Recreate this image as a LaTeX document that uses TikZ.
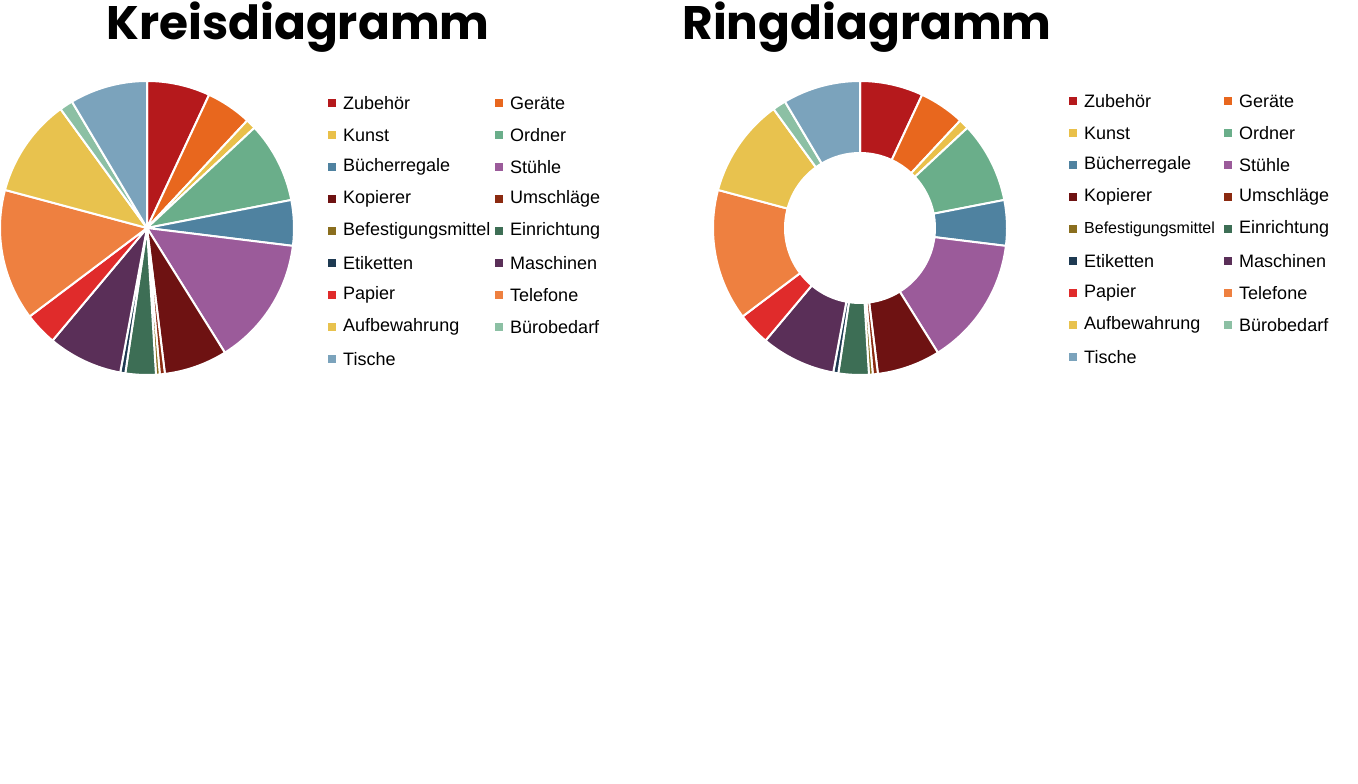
\documentclass[tikz,border=0pt]{standalone}
\usepackage{fontspec}
\setmainfont{Liberation Sans}
\newfontfamily\titlefont{Poppins}
\definecolor{cA}{HTML}{B5191C}\definecolor{cB}{HTML}{E8671E}\definecolor{cC}{HTML}{E9C04A}
\definecolor{cD}{HTML}{6AAE8A}\definecolor{cE}{HTML}{4F82A0}\definecolor{cF}{HTML}{9B5B9A}
\definecolor{cG}{HTML}{6E1212}\definecolor{cH}{HTML}{8B2A10}\definecolor{cI}{HTML}{8A6E1E}
\definecolor{cJ}{HTML}{3D6E55}\definecolor{cK}{HTML}{1E3A52}\definecolor{cL}{HTML}{5A2F58}
\definecolor{cM}{HTML}{E02B2B}\definecolor{cN}{HTML}{EE8040}\definecolor{cO}{HTML}{E8C24E}
\definecolor{cP}{HTML}{8CC0A4}\definecolor{cQ}{HTML}{7BA3BC}
\tikzset{slice/.style={fill=#1,draw=white,line width=2pt,line join=round},
 leg/.style={anchor=west,font=\fontsize{18}{20}\selectfont,inner sep=0pt},
 legsq/.style={fill=#1,minimum size=8pt,inner sep=0pt},
 ttl/.style={font=\titlefont\bfseries\fontsize{47}{50}\selectfont,inner sep=0pt}}
\begin{document}
\begin{tikzpicture}[x=1pt,y=1pt]
\useasboundingbox (0,0) rectangle (1358,784);
\def\slices{90/65/cA,65/47/cB,47/43/cC,43/11/cD,11/-7/cE,-7/-58/cF,-58/-83/cG,-83/-85/cH,-85/-86.5/cI,-86.5/-98.5/cJ,-98.5/-100.5/cK,-100.5/-130/cL,-130/-143/cM,-143/-195/cN,-195/-234/cO,-234/-239.3/cP,-239.3/-270/cQ}
\node[ttl] (t1) at (298,757) {Kreisdiagramm};
\node[ttl] (t2) at (867,757) {Ringdiagramm};
\begin{scope}[shift={(147,556)}]
\foreach \a/\b/\c in \slices {\draw[slice=\c] (0,0) -- (\a:147) arc (\a:\b:147) -- cycle;}
\end{scope}
\begin{scope}[shift={(860,556)}]
\foreach \a/\b/\c in \slices {\draw[slice=\c] (\a:147) arc (\a:\b:147) -- (\b:75) arc (\b:\a:75) -- cycle;}
\end{scope}
\foreach \t/\c [count=\i from 0] in {Zubehör/cA,Kunst/cC,Bücherregale/cE,Kopierer/cG,Befestigungsmittel/cI,Etiketten/cK,Papier/cM,Aufbewahrung/cO,Tische/cQ}{
 \node[legsq=\c] (ls\i) at (332,784-103-32*\i) {};
 \node[leg] (lt\i) at (343,784-103-32*\i) {\t};
 \node[legsq=\c] (rs\i) at (1073,784-101-32*\i) {};
 \node[leg] (rt\i) at (1084,784-101-32*\i) {\ifnum\i=4 \fontsize{16}{18}\selectfont\fi\t};}
\foreach \t/\c [count=\i from 0] in {Geräte/cB,Ordner/cD,Stühle/cF,Umschläge/cH,Einrichtung/cJ,Maschinen/cL,Telefone/cN,Bürobedarf/cP}{
 \node[legsq=\c] (ms\i) at (499,784-103-32*\i) {};
 \node[leg] (mt\i) at (510,784-103-32*\i) {\t};
 \node[legsq=\c] (ns\i) at (1228,784-101-32*\i) {};
 \node[leg] (nt\i) at (1239,784-101-32*\i) {\t};}
\end{tikzpicture}
\end{document}
